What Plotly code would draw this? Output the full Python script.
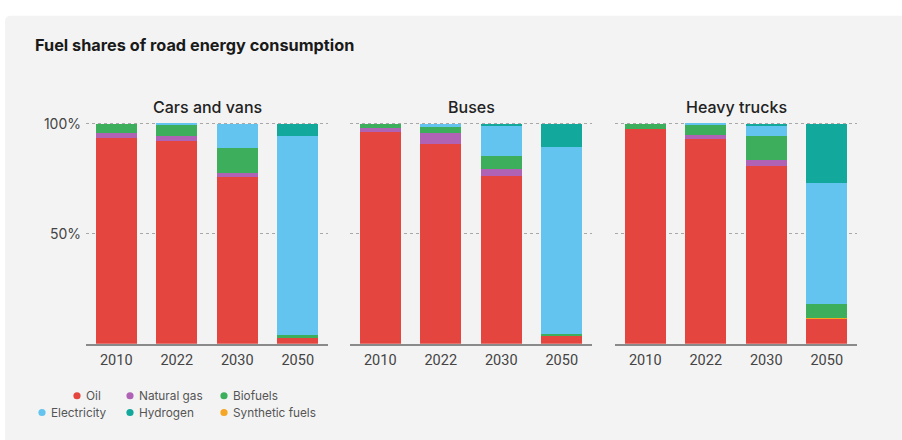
import plotly.graph_objects as go

W, H = 902, 440

years = ["2010", "2022", "2030", "2050"]
panels = ["Cars and vans", "Buses", "Heavy trucks"]
fuels = ["Oil", "Natural gas", "Synthetic fuels", "Biofuels", "Electricity", "Hydrogen"]
colors = {
    "Oil": "#e4463f",
    "Natural gas": "#b062b5",
    "Synthetic fuels": "#f5a623",
    "Biofuels": "#3dae5b",
    "Electricity": "#63c4ef",
    "Hydrogen": "#13a89c",
}

# shares (%) per panel, per year
oil_cars = [93.5, 92.0, 75.6, 2.8]
ng_cars = [2.3, 2.6, 1.8, 0.0]
syn_cars = [0.0, 0.0, 0.0, 0.0]
bio_cars = [4.2, 4.8, 11.5, 1.2]
elec_cars = [0.0, 0.6, 11.1, 90.4]
h2_cars = [0.0, 0.0, 0.0, 5.6]

oil_buses = [96.3, 90.8, 76.1, 3.7]
ng_buses = [1.9, 5.2, 3.5, 0.0]
syn_buses = [0.0, 0.0, 0.0, 0.0]
bio_buses = [1.8, 2.5, 5.6, 0.9]
elec_buses = [0.0, 1.5, 13.8, 84.6]
h2_buses = [0.0, 0.0, 1.0, 10.8]

oil_trucks = [97.5, 93.1, 80.8, 11.4]
ng_trucks = [0.3, 1.9, 2.5, 0.0]
syn_trucks = [0.0, 0.0, 0.0, 0.3]
bio_trucks = [2.2, 4.3, 11.2, 6.2]
elec_trucks = [0.0, 0.7, 4.5, 55.1]
h2_trucks = [0.0, 0.0, 1.0, 27.0]

y_ticks = [50, 100]
y_tick_labels = ["50%", "100%"]

data = [
    [oil_cars, ng_cars, syn_cars, bio_cars, elec_cars, h2_cars],
    [oil_buses, ng_buses, syn_buses, bio_buses, elec_buses, h2_buses],
    [oil_trucks, ng_trucks, syn_trucks, bio_trucks, elec_trucks, h2_trucks],
]

FONT = "Inter"
fig = go.Figure()

for p, series in enumerate(data):
    xa = "x" if p == 0 else f"x{p+1}"
    ya = "y" if p == 0 else f"y{p+1}"
    for f, vals in zip(fuels, series):
        fig.add_trace(go.Bar(
            x=years, y=vals, name=f, xaxis=xa, yaxis=ya,
            marker=dict(color=colors[f], line=dict(width=0)),
            showlegend=False, hoverinfo="skip",
        ))

# pixel helpers
def px(x):
    return x / W

def py(y):
    return 1 - y / H

domains = [(86, 328), (350, 592), (615, 857)]
y_dom = [py(342), py(116.5)]

layout = dict(
    width=W, height=H,
    margin=dict(l=0, r=0, t=0, b=0),
    paper_bgcolor="white",
    plot_bgcolor="rgba(0,0,0,0)",
    barmode="stack",
    bargap=0.32,
    showlegend=False,
    font=dict(family=FONT, color="#444"),
)
for p, (a, b) in enumerate(domains):
    sx = "" if p == 0 else str(p + 1)
    layout[f"xaxis{sx}"] = dict(
        domain=[px(a), px(b)], anchor=f"y{sx}",
        showline=True, linecolor="#8a8a8a", linewidth=2,
        showgrid=False, ticks="", fixedrange=True,
        tickfont=dict(family="Roboto", size=14.5, color="#444"),
        ticklabelstandoff=2,
    )
    layout[f"yaxis{sx}"] = dict(
        domain=y_dom, anchor=f"x{sx}",
        range=[0, 100.6], tickvals=y_ticks, ticktext=y_tick_labels,
        showticklabels=(p == 0), showline=False, zeroline=False,
        showgrid=True, gridcolor="#a8a8a8", griddash="dot", gridwidth=1,
        ticks="", fixedrange=True,
        tickfont=dict(family=FONT, size=14, color="#444"),
        ticklabelstandoff=4,
    )

fig.update_layout(**layout)

# card background with rounded top-left corner
r_c = 6
card_path = (
    f"M {px(5 + r_c)},{py(8)} L 1,{py(8)} L 1,0 L {px(5)},0 "
    f"L {px(5)},{py(8 + r_c)} Q {px(5)},{py(8)} {px(5 + r_c)},{py(8)} Z"
)
fig.add_shape(type="path", xref="paper", yref="paper", path=card_path,
              fillcolor="#f3f3f3", line=dict(width=0), layer="below")

# title
fig.add_annotation(text="<b>Fuel shares of road energy consumption</b>",
                   xref="paper", yref="paper", x=px(33), y=py(38),
                   xanchor="left", yanchor="middle", showarrow=False,
                   font=dict(family=FONT, size=16.3, color="#1a1a1a"))

# panel titles
for (a, b), t in zip(domains, panels):
    fig.add_annotation(text=t, xref="paper", yref="paper",
                       x=px((a + b) / 2), y=py(101),
                       xanchor="center", yanchor="middle", showarrow=False,
                       font=dict(family=FONT, size=16, color="#222", weight=500))

# legend
legend_items = [
    ("Oil", 77, 395), ("Natural gas", 130, 395), ("Biofuels", 224, 395),
    ("Electricity", 42, 412), ("Hydrogen", 130, 412), ("Synthetic fuels", 224, 412),
]
r = 3.6
for name, cx, cy in legend_items:
    fig.add_shape(type="circle", xref="paper", yref="paper",
                  x0=px(cx - r), x1=px(cx + r), y0=py(cy + r), y1=py(cy - r),
                  fillcolor=colors[name], line=dict(width=0))
    fig.add_annotation(text=name, xref="paper", yref="paper",
                       x=px(cx + 7), y=py(cy), xanchor="left", yanchor="middle",
                       showarrow=False,
                       font=dict(family=FONT, size=11.8, color="#555"))

fig.write_html("out.html")
